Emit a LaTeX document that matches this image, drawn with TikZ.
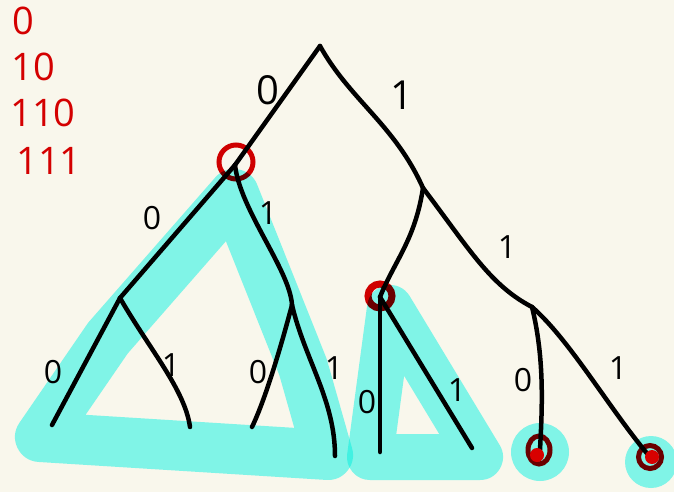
\documentclass[tikz,border=0pt]{standalone}
\usepackage{fontspec}
\setmainfont{Open Sans}
\usepackage{xcolor}
\usetikzlibrary{shapes.geometric}
\definecolor{paper}{HTML}{F9F7EC}
\definecolor{hilite}{HTML}{84FCFA}
\definecolor{codered}{HTML}{D40000}
\tikzset{
  edge/.style={line width=4.5pt, line cap=round, line join=round, black},
  bit/.style={font=\fontsize{32}{32}\selectfont, inner sep=0pt},
  bigbit/.style={font=\fontsize{40}{40}\selectfont, inner sep=0pt},
  codeword/.style={font=\fontsize{38}{38}\selectfont, text=codered, inner sep=0pt},
  band/.style={line width=50pt, draw=hilite, line join=round, line cap=round},
  blob/.style={circle, fill=hilite, inner sep=0pt},
  ring/.style={circle, draw=codered, line width=5pt, inner sep=0pt},
  dot/.style={circle, fill=codered!90!red, inner sep=0pt, minimum size=14pt},
}

\begin{document}
\begin{tikzpicture}[x=1pt, y=-1pt]
\useasboundingbox (0,0) rectangle (674,492);
\fill[paper] (0,0) rectangle (674,492);
% tree positions
\coordinate (root) at (320,46);
\coordinate (nA) at (235,165);
\coordinate (nB) at (423,188);
\coordinate (nAA) at (120,298);
\coordinate (nAB) at (292,305);
\coordinate (nBA) at (380,297);
\coordinate (nBB) at (532,307);
\coordinate (lAAA) at (52,425);
\coordinate (lAAB) at (190,427);
\coordinate (lABA) at (252,427);
\coordinate (lABB) at (335,456);
\coordinate (lBAA) at (380,452);
\coordinate (lBAB) at (472,448);
\coordinate (lBBA) at (540,450);
\coordinate (lBBB) at (650,457);
% highlighted subtrees
\begin{scope}[blend mode=multiply]
\draw[band] (234,194) -- (108,338) -- (40,437) -- (328,455) -- (303,367) -- cycle;
\draw[band, line width=46pt] (390,308) -- (370,457) -- (480,457) -- cycle;
\node[blob, minimum size=58pt] (hlBBA) at (540,452) {};
\node[blob, minimum size=52pt] (hlBBB) at (651,462) {};
\end{scope}
% edges
\draw[edge] (root) -- (nA);
\draw[edge] (root) .. controls (350,100) and (395,125) .. (nB);
\draw[edge] (nA) -- (nAA);
\draw[edge] (nA) .. controls (240,210) and (290,270) .. (nAB);
\draw[edge] (nAA) -- (lAAA);
\draw[edge] (nAA) .. controls (150,350) and (185,390) .. (lAAB);
\draw[edge] (nAB) .. controls (280,350) and (265,400) .. (lABA);
\draw[edge] (nAB) .. controls (305,360) and (335,400) .. (lABB);
\draw[edge] (nB) .. controls (415,240) and (395,260) .. (nBA);
\draw[edge] (nB) .. controls (470,250) and (490,285) .. (nBB);
\draw[edge] (nBA) -- (lBAA);
\draw[edge] (nBA) -- (lBAB);
\draw[edge] (nBB) .. controls (545,360) and (542,410) .. (lBBA);
\draw[edge] (nBB) .. controls (570,340) and (610,410) .. (lBBB);
% chosen code nodes
\begin{scope}[blend mode=multiply]
\node[ring, minimum size=34pt] (rA) at (236,162) {};
\node[ring, line width=7pt, minimum size=24pt] (rBA) at (380,296) {};
\node[ring, ellipse, minimum width=22pt, minimum height=28pt] (rBBA) at (539,450) {};
\node[ring, minimum size=23pt] (rBBB) at (650,457) {};
\end{scope}
\node[dot] (dBBA) at (537,455) {};
\node[dot] (dBBB) at (652,457) {};
% edge labels
\node[bigbit] (b0) at (268,90) {0};
\node[bigbit] (b1) at (402,95) {1};
\node[bit] (bA0) at (152,218) {0};
\node[bit] (bA1) at (268,213) {1};
\node[bit] (bAA0) at (53,372) {0};
\node[bit] (bAA1) at (171,365) {1};
\node[bit] (bAB0) at (258,372) {0};
\node[bit] (bAB1) at (334,368) {1};
\node[bit] (bB1) at (507,247) {1};
\node[bit] (bBA0) at (367,402) {0};
\node[bit] (bBA1) at (457,390) {1};
\node[bit] (bBB0) at (523,380) {0};
\node[bit] (bBB1) at (618,368) {1};
% code list
\node[codeword] (c1) at (23,21) {0};
\node[codeword] (c2) at (33,67) {10};
\node[codeword] (c3) at (43,113) {110};
\node[codeword] (c4) at (49,161) {111};
\end{tikzpicture}
\end{document}
